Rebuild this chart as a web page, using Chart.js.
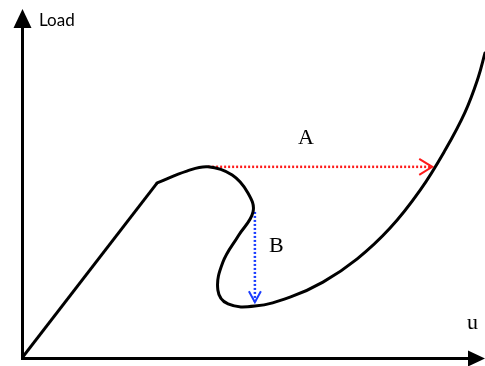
<!DOCTYPE html>
<html lang="en">
<head>
<meta charset="UTF-8">
<title>Load - u</title>
<script src="https://cdn.jsdelivr.net/npm/chart.js@4.4.0/dist/chart.umd.min.js"></script>
<style>
  html, body { margin: 0; padding: 0; background: #fff; }
  #wrap { width: 485px; height: 366px; }
</style>
</head>
<body>
<div id="wrap"><canvas id="loadChart"></canvas></div>
<script>
// elastic branch (straight)
const elasticU = [0, 29.2];
const elasticLoad = [0, 48.9];

// snap-back branch (smooth)
const curveU =    [29.2, 35.6, 40.2, 45.4, 48.8, 49.9, 46.7, 43.4, 42.3, 44.5, 50.3, 57.9, 65.0, 72.4, 79.5, 86.0, 91.4, 95.7, 98.5, 100];
const curveLoad = [48.9, 52.2, 53.4, 51.1, 46.1, 40.8, 34.1, 26.8, 19.0, 15.1, 14.5, 17.0, 21.2, 27.7, 36.3, 46.9, 58.1, 68.7, 78.2, 85.2];

// path A (load control jump) and path B (displacement control drop)
const pathAU = [40.2, 88.6];
const pathALoad = [53.4, 53.4];
const pathBU = [50.3, 50.3];
const pathBLoad = [40.8, 15.6];

const toPts = (xs, ys) => xs.map((x, i) => ({ x: x, y: ys[i] }));

// axes with arrows, open arrowheads, and labels
const extras = {
  id: 'extras',
  afterDatasetsDraw(chart) {
    const ctx = chart.ctx;
    const xs = chart.scales.x, ys = chart.scales.y;
    const x0 = xs.getPixelForValue(0) + 0.5;
    const y0 = ys.getPixelForValue(0) + 0.5;
    ctx.save();
    ctx.strokeStyle = '#000';
    ctx.fillStyle = '#000';
    ctx.lineWidth = 3;
    ctx.beginPath();
    ctx.moveTo(x0, y0);
    ctx.lineTo(x0, 24);
    ctx.moveTo(x0 - 1.5, y0);
    ctx.lineTo(472, y0);
    ctx.stroke();
    // y arrowhead
    ctx.beginPath();
    ctx.moveTo(x0, 9);
    ctx.lineTo(x0 - 9, 28);
    ctx.lineTo(x0 + 9, 28);
    ctx.closePath();
    ctx.fill();
    // x arrowhead
    ctx.beginPath();
    ctx.moveTo(485, y0);
    ctx.lineTo(468, y0 - 8);
    ctx.lineTo(468, y0 + 8);
    ctx.closePath();
    ctx.fill();

    // open arrowheads
    ctx.lineWidth = 2;
    const ax = xs.getPixelForValue(pathAU[1]), ay = ys.getPixelForValue(pathALoad[1]);
    ctx.strokeStyle = '#ff1a1a';
    ctx.beginPath();
    ctx.moveTo(ax - 13, ay - 8);
    ctx.lineTo(ax, ay);
    ctx.lineTo(ax - 13, ay + 8);
    ctx.stroke();
    const bx = xs.getPixelForValue(pathBU[1]), by = ys.getPixelForValue(pathBLoad[1]);
    ctx.strokeStyle = '#1a3cff';
    ctx.beginPath();
    ctx.moveTo(bx - 6, by - 11);
    ctx.lineTo(bx, by);
    ctx.lineTo(bx + 6, by - 11);
    ctx.stroke();

    // labels
    ctx.fillStyle = '#000';
    ctx.textBaseline = 'alphabetic';
    ctx.font = '17px Lato';
    ctx.fillText('Load', 39, 26);
    ctx.font = '22px "Liberation Serif"';
    ctx.fillText('u', 467, 329);
    ctx.fillText('A', 298, 144);
    ctx.fillText('B', 269, 252);
    ctx.restore();
  }
};

new Chart(document.getElementById('loadChart'), {
  type: 'scatter',
  data: {
    datasets: [
      {
        data: toPts(elasticU, elasticLoad),
        showLine: true, borderColor: '#000', borderWidth: 3,
        pointRadius: 0, tension: 0
      },
      {
        data: toPts(curveU, curveLoad),
        showLine: true, borderColor: '#000', borderWidth: 3,
        pointRadius: 0, tension: 0.4, borderCapStyle: 'round'
      },
      {
        data: toPts(pathAU, pathALoad),
        showLine: true, borderColor: '#ff1a1a', borderWidth: 2.5,
        borderDash: [2, 2], pointRadius: 0
      },
      {
        data: toPts(pathBU, pathBLoad),
        showLine: true, borderColor: '#1a3cff', borderWidth: 2.5,
        borderDash: [2, 2], pointRadius: 0
      }
    ]
  },
  options: {
    responsive: true,
    maintainAspectRatio: false,
    animation: false,
    layout: { padding: { left: 22, right: 0, top: 0, bottom: 8 } },
    plugins: { legend: { display: false }, tooltip: { enabled: false } },
    scales: {
      x: { type: 'linear', min: 0, max: 100, display: false },
      y: { type: 'linear', min: 0, max: 100, display: false }
    }
  },
  plugins: [extras]
});
</script>
</body>
</html>
